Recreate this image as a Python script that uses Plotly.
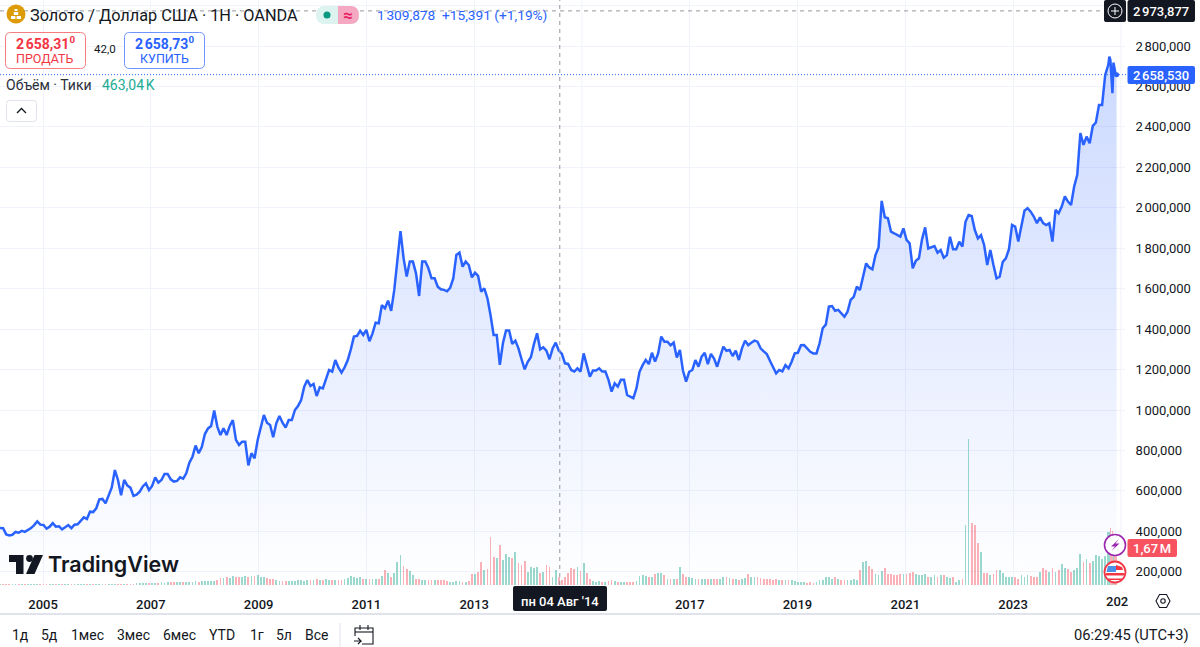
import numpy as np
import pandas as pd
import plotly.graph_objects as go

# ---- data ----
PRICES = [
 416,415,385,380,383,397,393,402,397,406,
 416,431,449,433,431,413,423,440,423,425,
 410,420,431,416,433,435,453,469,461,497,
 495,514,558,560,538,578,617,703,654,578,
 654,627,616,575,581,596,622,637,604,624,
 667,641,654,684,684,657,646,649,667,660,
 687,739,769,824,786,817,881,909,921,997,
 918,876,909,876,921,950,852,827,843,843,
 726,786,761,852,909,975,937,926,865,934,
 970,937,913,950,950,1000,1020,1049,1115,1148,
 1119,1129,1069,1112,1107,1157,1198,1190,1247,1211,
 1185,1211,1246,1300,1363,1366,1392,1371,1396,1340,
 1379,1432,1429,1518,1503,1541,1490,1594,1726,1885,
 1750,1660,1734,1734,1676,1564,1734,1734,1701,1651,
 1651,1610,1597,1594,1587,1604,1651,1767,1778,1709,
 1734,1717,1656,1679,1663,1585,1602,1553,1470,1371,
 1371,1223,1330,1393,1393,1327,1343,1305,1251,1201,
 1238,1261,1327,1379,1300,1310,1294,1251,1304,1333,
 1294,1277,1231,1228,1198,1190,1206,1190,1280,1223,
 1165,1195,1195,1206,1190,1190,1149,1091,1132,1116,
 1149,1149,1074,1066,1058,1107,1189,1222,1247,1227,
 1283,1239,1280,1363,1338,1338,1320,1333,1260,1297,
 1194,1140,1189,1198,1247,1214,1264,1283,1227,1277,
 1254,1214,1267,1313,1293,1297,1267,1293,1247,1305,
 1343,1321,1333,1343,1338,1305,1290,1277,1244,1214,
 1181,1198,1191,1222,1206,1239,1280,1283,1320,1321,
 1305,1288,1280,1280,1330,1404,1422,1511,1514,1491,
 1495,1478,1461,1486,1544,1560,1610,1593,1656,1725,
 1705,1696,1766,1804,2034,1953,1948,1882,1874,1865,
 1857,1898,1841,1824,1701,1738,1750,1844,1903,1799,
 1804,1811,1778,1791,1753,1766,1857,1795,1795,1832,
 1808,1931,1964,1959,1890,1849,1865,1816,1717,1791,
 1717,1651,1659,1733,1750,1795,1915,1907,1833,1907,
 1986,1998,1981,1957,1924,1953,1924,1915,1924,1833,
 1990,1973,2006,2056,2031,2014,2105,2163,2369,2311,
 2352,2319,2405,2422,2509,2509,2657,2707,
]
PRICES_TAIL = [2748,2731,2649,2567,2718,2685,2662,2658.53]

VOLUME_K = [
 25,30,25,30,25,35,25,30,25,30,
 30,30,35,30,35,30,35,30,30,35,
 35,35,35,35,40,40,40,40,45,40,
 45,45,50,45,50,45,50,55,50,60,
 55,55,60,60,100,90,95,100,95,105,
 110,105,115,110,120,115,125,130,120,135,
 130,140,135,170,150,175,165,190,175,200,
 215,300,330,370,300,395,350,380,340,420,
 370,400,415,440,380,360,310,270,250,225,
 190,175,170,165,195,180,210,205,185,230,
 240,225,250,220,240,260,225,215,240,230,
 220,250,320,410,350,310,340,290,260,250,
 270,260,290,400,690,520,340,550,1030,1340,
 860,700,650,450,280,250,240,230,220,230,
 220,230,240,210,180,150,135,165,165,150,
 150,195,495,480,600,1050,675,705,2145,1275,
 1200,1800,1125,1395,1245,1200,1500,975,900,1095,
 600,795,750,795,555,600,900,825,375,675,
 375,225,375,525,750,705,825,645,975,525,
 255,165,150,165,135,120,180,225,180,150,
 150,150,150,150,150,195,410,430,410,380,
 380,480,520,550,430,290,275,275,275,825,
 480,345,345,310,275,290,260,275,260,275,
 260,260,290,345,345,310,275,290,240,275,
 310,480,380,345,345,310,275,290,260,240,
 260,205,225,225,225,205,170,140,120,120,
 105,120,105,120,240,240,345,380,275,345,
 275,240,240,205,205,275,240,690,1030,1065,
 860,720,480,430,650,775,515,515,430,430,
 480,515,515,550,600,480,430,430,480,380,
 380,430,380,430,430,380,300,375,150,225,
 255,2700,6555,2805,2700,1875,1500,525,525,465,
 495,675,675,525,375,345,345,375,255,450,
 345,450,405,360,345,600,750,675,600,750,
 600,675,945,750,720,600,675,750,1395,1050,
 1155,1005,1080,1350,1305,1155,1305,2400,
]
VOLUME_K_TAIL = [2400,2550,2300,2450,1800,1700,1670,1670]

Y_TICKS = [200,400,600,800,1000,1200,1400,1600,1800,2000,2200,2400,2600,2800]
Y_LABELS = ["200,000","400,000","600,000","800,000","1\u202f000,000","1\u202f200,000","1\u202f400,000",
            "1\u202f600,000","1\u202f800,000","2\u202f000,000","2\u202f200,000","2\u202f400,000",
            "2\u202f600,000","2\u202f800,000"]
X_TICKS = ["2005-01-01","2007-01-01","2009-01-01","2011-01-01","2013-01-01",
           "2017-01-01","2019-01-01","2021-01-01","2023-01-01"]
X_LABELS = ["2005","2007","2009","2011","2013","2017","2019","2021","2023"]
UNLABELLED_X_GRID = ["2015-01-01","2025-01-01"]
UNLABELLED_Y_GRID = [3000]
RANGE_BUTTONS = ["1д","5д","1мес","3мес","6мес","YTD","1г","5л","Все"]
CROSS_DATE = "2014-08-04"
CROSS_PRICE = 2973.877
LAST_PRICE = 2658.53

FONT = "Roboto"
BLUE = "#2962ff"
INK = "#131722"
GRID = "#f0f3fa"

# ---- series assembly ----
n = min(len(PRICES), len(VOLUME_K))
d1 = pd.date_range("2004-03-15", periods=n, freq="505h")
d2 = pd.date_range(d1[-1] + pd.Timedelta(days=7), periods=len(PRICES_TAIL), freq="7D")
dates = list(d1) + list(d2)
price = list(PRICES[:n]) + PRICES_TAIL
vol = list(VOLUME_K[:n]) + VOLUME_K_TAIL
bw = [12 * 86400000] * n + [6 * 86400000] * len(PRICES_TAIL)
chg = np.diff([price[0]] + price)
bar_col = ["#22ab94" if c >= 0 else "#f7525f" for c in chg]

# ---- furniture helpers (pixel to paper) ----
W_PLOT, H_PLOT = 1125.0, 585.0
def PX(x): return x / W_PLOT
def PY(y): return 1 - y / H_PLOT

shapes, ann = [], []
def rrect(x0, y0, x1, y1, r, fill, line=None, lw=1):
    X0, X1, Y0, Y1 = x0, x1, y0, y1
    p = [("M", X0 + r, Y0), ("L", X1 - r, Y0), ("Q", X1, Y0, X1, Y0 + r), ("L", X1, Y1 - r),
         ("Q", X1, Y1, X1 - r, Y1), ("L", X0 + r, Y1), ("Q", X0, Y1, X0, Y1 - r), ("L", X0, Y0 + r),
         ("Q", X0, Y0, X0 + r, Y0)]
    s = ""
    for seg in p:
        s += seg[0]
        vals = seg[1:]
        s += " ".join(f"{PX(vals[i]):.5f},{PY(vals[i+1]):.5f}" for i in range(0, len(vals), 2)) + " "
    s += "Z"
    shapes.append(dict(type="path", path=s, xref="paper", yref="paper", fillcolor=fill,
                       line=dict(color=line or "rgba(0,0,0,0)", width=lw if line else 0), layer="above"))
def poly(pts, fill=None, line=None, lw=1.2, close=True):
    s = "M" + " L".join(f"{PX(a):.5f},{PY(b):.5f}" for a, b in pts) + (" Z" if close else "")
    shapes.append(dict(type="path", path=s, xref="paper", yref="paper",
                       fillcolor=fill or "rgba(0,0,0,0)",
                       line=dict(color=line or "rgba(0,0,0,0)", width=lw if line else 0), layer="above"))
def circle(cx, cy, r, fill, line=None, lw=1.5):
    shapes.append(dict(type="circle", xref="paper", yref="paper", x0=PX(cx - r), x1=PX(cx + r),
                       y0=PY(cy + r), y1=PY(cy - r), fillcolor=fill,
                       line=dict(color=line or "rgba(0,0,0,0)", width=lw if line else 0), layer="above"))
def text(x, y, s, size=13, color=INK, anchor="left", weight=400, family=FONT):
    ann.append(dict(x=PX(x), y=PY(y), xref="paper", yref="paper", text=s, showarrow=False,
                    xanchor=anchor, yanchor="middle", align=anchor, borderpad=0,
                    font=dict(size=size, color=color, family=family, weight=weight)))

# grid lines without a visible label, crosshair and last-price line go through the data axes
for d in UNLABELLED_X_GRID:
    shapes.append(dict(type="line", xref="x", yref="paper", x0=d, x1=d, y0=0, y1=1,
                       line=dict(color=GRID, width=1), layer="below"))
for v in UNLABELLED_Y_GRID:
    shapes.append(dict(type="line", xref="paper", yref="y", x0=0, x1=1, y0=v, y1=v,
                       line=dict(color=GRID, width=1), layer="below"))
shapes.append(dict(type="line", xref="x", yref="paper", x0=CROSS_DATE, x1=CROSS_DATE, y0=0, y1=1,
                   line=dict(color="#9598a1", width=1, dash="4px,4px"), layer="above"))
shapes.append(dict(type="line", xref="paper", yref="y", x0=0, x1=PX(1104), y0=CROSS_PRICE, y1=CROSS_PRICE,
                   line=dict(color="#9598a1", width=1, dash="4px,4px"), layer="above"))
shapes.append(dict(type="line", xref="paper", yref="y", x0=0, x1=PX(1127), y0=LAST_PRICE, y1=LAST_PRICE,
                   line=dict(color=BLUE, width=1, dash="1px,2px"), layer="above"))

# top legend
circle(16, 14, 9.5, "#dd9b06")
poly([(11, 19), (15.4, 19), (15.4, 16), (11, 16)], "#ffffff")
poly([(16.6, 19), (21, 19), (21, 16), (16.6, 16)], "#ffffff")
poly([(13.8, 15), (18.2, 15), (18.2, 12), (13.8, 12)], "#ffffff")
poly([(14.5, 11), (17.5, 11), (17.5, 9), (14.5, 9)], "#ffffff")
text(29, 15, "Золото / Доллар США · 1Н · OANDA", 16.3)
rrect(316, 6, 359, 24, 9, "#dcf3ef")
rrect(338, 6, 359, 24, 9, "#f4a8c2")
poly([(338, 6), (348, 6), (348, 24), (338, 24)], "#f4a8c2")
circle(327, 15, 3.5, "#089981")
text(347.5, 15, "≈", 17, "#e91e63", "center", 700)
text(376, 15, "1\u202f309,878  +15,391 (+1,19%)", 13.7, BLUE)

# order buttons
rrect(5.5, 32.5, 85.5, 68.5, 5, "#ffffff", "#f77c80", 1)
text(45, 43, "2\u202f658,31<sup>0</sup>", 14, "#f23645", "center", 700)
text(45, 59, "ПРОДАТЬ", 12.5, "#f23645", "center")
text(105, 49, "42,0", 11.5, INK, "center")
rrect(124.5, 32.5, 204.5, 68.5, 5, "#ffffff", "#6f93ff", 1)
text(164, 43, "2\u202f658,73<sup>0</sup>", 14, BLUE, "center", 700)
text(164, 59, "КУПИТЬ", 12.5, BLUE, "center")

# volume legend
text(5, 85, "Объём · Тики", 14, "#2a2e39")
text(101, 85, "463,04\u202fK", 14, "#22ab94")
rrect(6.5, 100.5, 36.5, 121.5, 3, "#ffffff", "#e0e3eb", 1)
poly([(17, 113), (21.5, 108.5), (26, 113)], None, INK, 1.3, close=False)

# right-hand price tags
rrect(1104, 0, 1126, 22, 2, INK)
circle(1115, 11, 7, "rgba(0,0,0,0)", "#ffffff", 1)
poly([(1111, 11), (1119, 11)], None, "#ffffff", 1, close=False)
poly([(1115, 7), (1115, 15)], None, "#ffffff", 1, close=False)
rrect(1127.5, 0, 1195, 22, 2, INK)
text(1161, 11, "2\u202f973,877", 13, "#ffffff", "center", 500)
rrect(1127.5, 66, 1195, 84, 2, BLUE)
text(1161, 75, "2\u202f658,530", 13, "#ffffff", "center", 500)
rrect(1127.5, 539, 1177, 557, 2, "#f7525f")
text(1152, 548, "1,67\u202fM", 13, "#ffffff", "center", 500)

# event icons
circle(1115, 545, 10.5, "#ffffff", "#9c27b0", 1.6)
poly([(1119, 539), (1111, 546.5), (1115, 546.5), (1111.5, 551), (1119.5, 543.5), (1115.5, 543.5)], "#9c27b0")
circle(1115, 572, 10.5, "#ffffff", "#f23645", 1.8)
poly([(1106, 573), (1124, 573), (1124, 575.5), (1106, 575.5)], "#f23645")
poly([(1108, 578.5), (1122, 578.5), (1122, 580), (1108, 580)], "#f23645")
poly([(1108, 566), (1116, 566), (1116, 572), (1106.5, 572)], "#4a90e8")
poly([(1116, 565), (1122, 567), (1123, 570), (1116, 570)], "#f23645")

# logo
poly([(9, 555), (23.5, 555), (23.5, 574), (16, 574), (16, 562), (9, 562)], INK)
circle(29.5, 558.5, 3.4, INK)
poly([(34.5, 555), (43, 555), (34.5, 574), (26, 574)], INK)
text(47, 564, "TradingView", 21.5, INK, "left", 600, "Inter")

# crosshair date label and clipped year
rrect(513, 586, 607, 611, 2, INK)
text(560, 601, "пн 04 Авг '14", 13, "#ffffff", "center", 500)
text(1116.5, 601, "202", 13, INK, "center", 500)

# settings hexagon
poly([(1156, 601), (1159.5, 594.5), (1166.5, 594.5), (1170, 601), (1166.5, 607.5), (1159.5, 607.5)], None, INK, 1.1)
circle(1163, 601, 2.2, "#ffffff", INK, 1.1)

# bottom toolbar
poly([(0, 613), (1200, 613), (1200, 615), (0, 615)], "#e0e3eb")
BTN_X = [20, 49, 87, 133.5, 179.5, 222, 256.5, 283.5, 316.5]
for bx, lab in zip(BTN_X, RANGE_BUTTONS):
    text(bx, 635, lab, 14, INK, "center")
poly([(340, 623), (340, 647)], None, "#e0e3eb", 1, close=False)
poly([(355, 636), (355, 628), (373, 628), (373, 644), (362, 644)], None, INK, 1.1, close=False)
poly([(355, 632), (373, 632)], None, INK, 1.1, close=False)
poly([(360, 625), (360, 630)], None, INK, 1.1, close=False)
poly([(368, 625), (368, 630)], None, INK, 1.1, close=False)
poly([(354, 641), (361, 641), (358, 638)], None, INK, 1.1, close=False)
poly([(361, 641), (358, 644)], None, INK, 1.1, close=False)
text(1190, 635, "06:29:45 (UTC+3)", 14.7, INK, "right")

# ---- figure ----
fig = go.Figure()
fig.add_trace(go.Scatter(
    x=dates, y=price, mode="lines", line=dict(color=BLUE, width=2.5), fill="tozeroy",
    fillgradient=dict(type="vertical", start=134.5, stop=2750,
                      colorscale=[[0, "rgba(41,98,255,0.0)"], [1, "rgba(41,98,255,0.24)"]]),
    hoverinfo="skip", showlegend=False, yaxis="y"))
fig.add_trace(go.Scatter(
    x=[dates[-1]], y=[price[-1]], mode="markers", marker=dict(color=BLUE, size=5),
    hoverinfo="skip", showlegend=False, yaxis="y"))
fig.add_trace(go.Bar(
    x=dates, y=vol, width=bw, marker=dict(color=bar_col, opacity=0.45, line=dict(width=0)),
    hoverinfo="skip", showlegend=False, yaxis="y2"))

fig.update_layout(
    width=1200, height=647, autosize=False,
    margin=dict(l=0, r=75, t=0, b=62, pad=0),
    paper_bgcolor="#ffffff", plot_bgcolor="#ffffff",
    font=dict(family=FONT, size=13, color=INK),
    hovermode=False, bargap=0,
    xaxis=dict(type="date", range=["2004-03-15", "2025-01-29"], tickmode="array",
               tickvals=X_TICKS, ticktext=X_LABELS, showgrid=True, gridcolor=GRID, gridwidth=1,
               zeroline=False, showline=False, ticks="outside", ticklen=7, tickcolor="rgba(0,0,0,0)",
               tickfont=dict(family=FONT, size=13, color=INK, weight=500), fixedrange=True),
    yaxis=dict(side="right", range=[134.5, 3027.7], tickmode="array", tickvals=Y_TICKS, ticktext=Y_LABELS,
               showgrid=True, gridcolor=GRID, gridwidth=1, zeroline=False, showline=False,
               ticks="outside", ticklen=7, tickcolor="rgba(0,0,0,0)",
               tickfont=dict(family=FONT, size=13, color=INK), fixedrange=True),
    yaxis2=dict(overlaying="y", side="left", range=[0, 26325], visible=False, fixedrange=True),
    shapes=shapes, annotations=ann,
)
fig.write_html("out.html", config=dict(displayModeBar=False, staticPlot=True),
               post_script="document.body.style.margin='0';document.body.style.overflow='hidden';")
